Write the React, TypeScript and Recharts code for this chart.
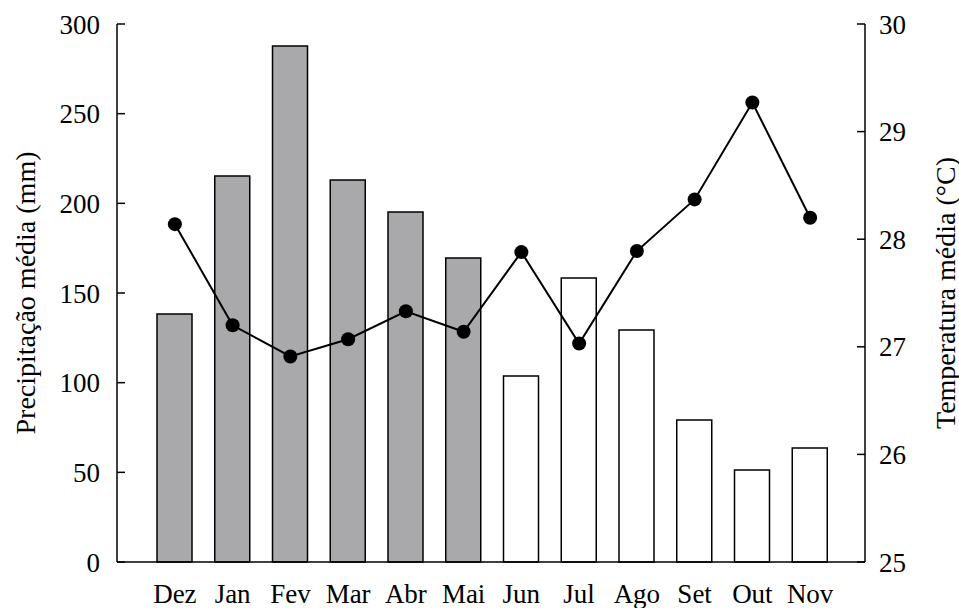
import React from 'react';
import { ComposedChart, Bar, Line, XAxis, YAxis, Cell } from 'recharts';

const months = ['Dez', 'Jan', 'Fev', 'Mar', 'Abr', 'Mai', 'Jun', 'Jul', 'Ago', 'Set', 'Out', 'Nov'];
const precipitation = [138.3, 215.3, 287.8, 213, 195.2, 169.5, 103.7, 158.4, 129.4, 79.2, 51.3, 63.6];
const temperature = [28.14, 27.2, 26.91, 27.07, 27.33, 27.14, 27.88, 27.03, 27.89, 28.37, 29.27, 28.2];
const rainySeason = [true, true, true, true, true, true, false, false, false, false, false, false];
const precipTicks = [0, 50, 100, 150, 200, 250, 300];
const tempTicks = [25, 26, 27, 28, 29, 30];

const data = months.map((m, i) => ({ month: m, prec: precipitation[i], temp: temperature[i] }));

const FONT = 'Liberation Serif';
const tickStyle = { fontFamily: FONT, fontSize: 27, fill: '#000' };

const makeLabel = (text: string, offsetX: number) => (props: any) => {
  const vb = props.viewBox || {};
  const cx = (vb.x ?? 0) + offsetX;
  const cy = (vb.y ?? 0) + (vb.height ?? 0) / 2;
  return (
    <text
      x={cx}
      y={cy}
      transform={`rotate(-90 ${cx} ${cy})`}
      textAnchor="middle"
      dominantBaseline="central"
      fontFamily={FONT}
      fontSize={28}
      fill="#000"
    >
      {text}
    </text>
  );
};

export default function App() {
  return (
    <div style={{ position: 'absolute', left: 0, top: 0, background: '#fff' }}>
      <ComposedChart
        width={959}
        height={608}
        data={data}
        margin={{ top: 24, right: 0, bottom: 0, left: 0 }}
      >
        <XAxis
          dataKey="month"
          tickLine={false}
          tickSize={6}
          tickMargin={16}
          height={46}
          padding={{ left: 29, right: 26 }}
          axisLine={{ stroke: '#000', strokeWidth: 1.5 }}
          tick={tickStyle}
          interval={0}
        />
        <YAxis
          yAxisId="left"
          orientation="left"
          width={117}
          domain={[0, 300]}
          ticks={precipTicks}
          tickSize={-8}
          tickMargin={25}
          axisLine={{ stroke: '#000', strokeWidth: 1.5 }}
          tickLine={{ stroke: '#000', strokeWidth: 1.5 }}
          tick={tickStyle}
          label={{ content: makeLabel('Precipitação média (mm)', 25) }}
        />
        <YAxis
          yAxisId="right"
          orientation="right"
          width={94}
          domain={[25, 30]}
          ticks={tempTicks}
          tickSize={-8}
          tickMargin={22}
          axisLine={{ stroke: '#000', strokeWidth: 1.5 }}
          tickLine={{ stroke: '#000', strokeWidth: 1.5 }}
          tick={tickStyle}
          label={{ content: makeLabel('Temperatura média (°C)', 80) }}
        />
        <Bar
          yAxisId="left"
          dataKey="prec"
          barSize={35}
          stroke="#000"
          strokeWidth={1.5}
          isAnimationActive={false}
        >
          {data.map((d, i) => (
            <Cell key={d.month} fill={rainySeason[i] ? '#a9a9ab' : '#ffffff'} />
          ))}
        </Bar>
        <Line
          yAxisId="right"
          dataKey="temp"
          type="linear"
          stroke="#000"
          strokeWidth={2}
          dot={{ r: 7, fill: '#000', stroke: '#000', strokeWidth: 0 }}
          activeDot={false}
          isAnimationActive={false}
        />
      </ComposedChart>
    </div>
  );
}
